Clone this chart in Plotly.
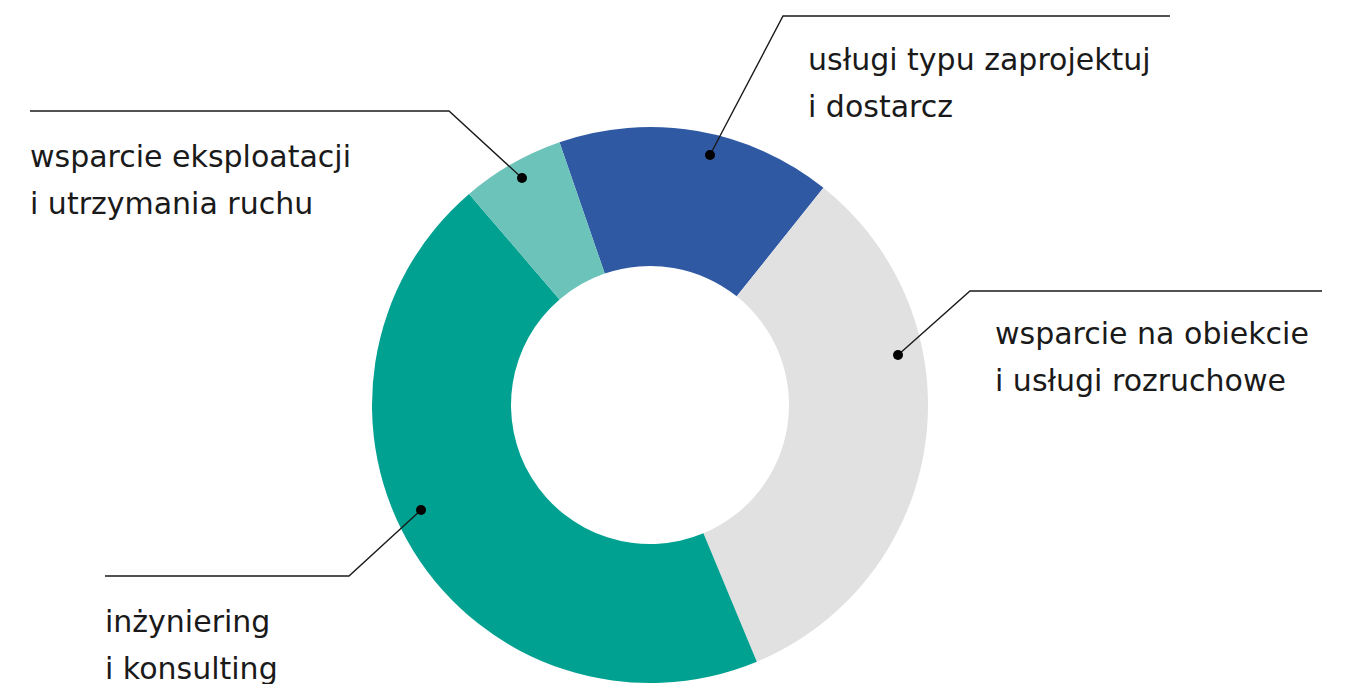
import plotly.graph_objects as go

W, H = 1357, 684
OFF = 8  # default page body margin of the html page

labels = ["usługi typu zaprojektuj i dostarcz", "wsparcie na obiekcie i usługi rozruchowe",
          "inżyniering i konsulting", "wsparcie eksploatacji i utrzymania ruchu"]
values = [16, 33, 45, 6]
colors = ["#3059A3", "#E1E1E1", "#00A191", "#6CC3BA"]

label_lines = [
    ["usługi typu zaprojektuj", "i dostarcz"],
    ["wsparcie na obiekcie", "i usługi rozruchowe"],
    ["inżyniering", "i konsulting"],
    ["wsparcie eksploatacji", "i utrzymania ruchu"],
]

# leader geometry (page pixel coords): dot, elbow, end
leaders = [
    [(710, 155), (783, 16), (1170, 16)],
    [(898, 355), (970, 291), (1322, 291)],
    [(421, 510), (349, 576), (105, 576)],
    [(522, 178), (449, 111), (30, 111)],
]
text_pos = [(806, 59, 106), (993, 333, 380), (103, 621, 668), (28, 156, 203)]

cx, cy, r = 650, 405, 278
pcx, pcy = cx - OFF, cy - OFF

fig = go.Figure()
fig.add_trace(go.Pie(
    labels=labels, values=values, hole=0.5, sort=False, direction="clockwise",
    rotation=-19, marker=dict(colors=colors, line=dict(width=0)),
    textinfo="none", hoverinfo="label+percent", showlegend=False,
    domain=dict(x=[(pcx - r) / W, (pcx + r) / W], y=[1 - (pcy + r) / H, 1 - (pcy - r) / H]),
))

shapes = []
for pts in leaders:
    path = "M {} {} L {} {} L {} {}".format(*[c for p in pts for c in p])
    shapes.append(dict(type="path", path=path, xref="x", yref="y",
                       line=dict(color="#1a1a1a", width=1.4)))
    dx, dy = pts[0]
    shapes.append(dict(type="circle", xref="x", yref="y", x0=dx - 5, x1=dx + 5,
                       y0=dy - 5, y1=dy + 5, fillcolor="#000000",
                       line=dict(width=0)))

annotations = []
for lines, (tx, y1, y2) in zip(label_lines, text_pos):
    for txt, ty in zip(lines, (y1, y2)):
        annotations.append(dict(
            x=tx, y=ty, xref="x", yref="y", text=txt, showarrow=False,
            xanchor="left", yanchor="middle",
            font=dict(family="DejaVu Sans, sans-serif", size=30, color="#1a1a1a"),
        ))

fig.update_layout(
    width=W, height=H, margin=dict(l=0, r=0, t=0, b=0),
    paper_bgcolor="white", plot_bgcolor="rgba(0,0,0,0)",
    xaxis=dict(range=[OFF, W + OFF], visible=False, fixedrange=True),
    yaxis=dict(range=[H + OFF, OFF], visible=False, fixedrange=True),
    annotations=annotations, shapes=shapes,
)

fig.write_html("out.html")
